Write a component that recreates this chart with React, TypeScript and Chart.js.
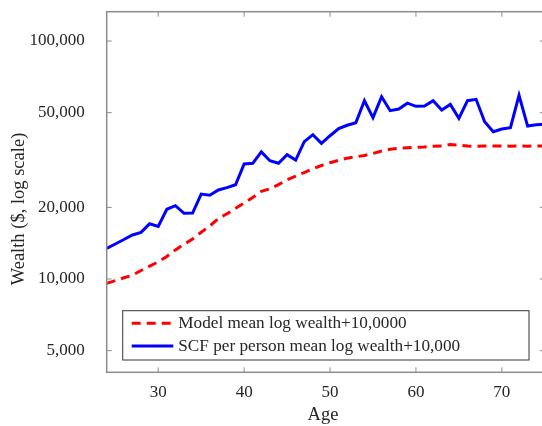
import { useEffect, useRef } from "react";
import { Chart, registerables, type ChartConfiguration, type Plugin } from "chart.js";

Chart.register(...registerables);

// ages on the x axis, one point per year
const AGES = [
  24, 25, 26, 27, 28, 29, 30, 31, 32, 33, 34, 35, 36, 37, 38, 39, 40, 41, 42, 43, 44, 45, 46, 47, 48, 49,
  50, 51, 52, 53, 54, 55, 56, 57, 58, 59, 60, 61, 62, 63, 64, 65, 66, 67, 68, 69, 70, 71, 72, 73, 74, 75,
];

// Model mean log wealth + 10,000 (dashed red)
const MODEL_WEALTH = [
  9590, 9840, 10120, 10370, 10860, 11320, 11810, 12440, 13250, 13990, 14730, 15720, 16710, 17950, 18800, 19810,
  20860, 22020, 23350, 23940, 24930, 26140, 27090, 28020, 29030, 29980, 30810, 31540, 32200, 32620, 33040, 33680,
  34500, 35060, 35390, 35630, 35770, 35900, 36150, 36220, 36700, 36570, 36220, 36110, 36220, 36220, 36220, 36150,
  36220, 36150, 36220, 36220,
];

// SCF per person mean log wealth + 10,000 (solid blue)
const SCF_WEALTH = [
  13460, 14030, 14660, 15310, 15710, 17070, 16640, 19630, 20320, 18880, 18920, 22750, 22480, 23660, 24200, 24900,
  30420, 30630, 34200, 31400, 30630, 33270, 31620, 37770, 40400, 37150, 40000, 42830, 44250, 45380, 56130, 47640,
  58350, 50960, 51760, 54800, 53170, 53330, 56130, 51330, 54160, 47310, 56130, 56890, 45800, 41590, 42660, 43230,
  59150, 43920, 44450, 44700,
];

const X_TICKS = [30, 40, 50, 60, 70];
const Y_TICKS = [5000, 10000, 20000, 50000, 100000];
const LEGEND_LABELS = ["Model mean log wealth+10,0000", "SCF per person mean log wealth+10,000"];

const SERIF = '"Liberation Serif", "Times New Roman", serif';
const AXIS_GRAY = "#8c8c8c";
const TEXT = "#262626";
const RED = "#ff0000";
const BLUE = "#0000ff";
const DASH = [9, 6];

// box round the plot, inward ticks, axis titles and the boxed legend
const framePlugin: Plugin<"line"> = {
  id: "frame",
  afterDraw(chart) {
    const { ctx, chartArea: a, scales } = chart;
    const x = scales.x;
    const y = scales.y;
    ctx.save();

    ctx.strokeStyle = AXIS_GRAY;
    ctx.lineWidth = 1.5;
    ctx.strokeRect(a.left, a.top, a.right - a.left, a.bottom - a.top);

    ctx.lineWidth = 1;
    ctx.beginPath();
    X_TICKS.forEach((t) => {
      const px = x.getPixelForValue(t);
      ctx.moveTo(px, a.bottom);
      ctx.lineTo(px, a.bottom - 5);
      ctx.moveTo(px, a.top);
      ctx.lineTo(px, a.top + 5);
    });
    Y_TICKS.forEach((t) => {
      const py = y.getPixelForValue(t);
      ctx.moveTo(a.left, py);
      ctx.lineTo(a.left + 5, py);
      ctx.moveTo(a.right, py);
      ctx.lineTo(a.right - 5, py);
    });
    ctx.stroke();

    // axis titles
    ctx.fillStyle = TEXT;
    ctx.font = `18.5px ${SERIF}`;
    ctx.textAlign = "center";
    ctx.textBaseline = "alphabetic";
    ctx.fillText("Age", 323, 420);
    ctx.save();
    ctx.translate(23.5, 209);
    ctx.rotate(-Math.PI / 2);
    ctx.fillText("Wealth ($, log scale)", 0, 0);
    ctx.restore();

    // legend
    const lx = 122.7;
    const ly = 310.7;
    ctx.fillStyle = "#ffffff";
    ctx.fillRect(lx, ly, 529 - lx, 360 - ly);
    ctx.strokeStyle = "#333333";
    ctx.lineWidth = 1;
    ctx.strokeRect(lx, ly, 529 - lx, 360 - ly);
    const rows = [
      { y: 323.3, color: RED, dash: DASH },
      { y: 346, color: BLUE, dash: [] as number[] },
    ];
    rows.forEach((r, i) => {
      ctx.strokeStyle = r.color;
      ctx.lineWidth = 3;
      ctx.setLineDash(r.dash);
      ctx.beginPath();
      ctx.moveTo(131.7, r.y);
      ctx.lineTo(173.3, r.y);
      ctx.stroke();
      ctx.setLineDash([]);
      ctx.fillStyle = TEXT;
      ctx.font = `17.2px ${SERIF}`;
      ctx.textAlign = "left";
      ctx.textBaseline = "middle";
      ctx.fillText(LEGEND_LABELS[i], 178.3, r.y);
    });

    ctx.restore();
  },
};

function WealthChart() {
  const canvasRef = useRef<HTMLCanvasElement>(null);

  useEffect(() => {
    if (!canvasRef.current) return;
    const config: ChartConfiguration<"line"> = {
      type: "line",
      data: {
        datasets: [
          {
            label: LEGEND_LABELS[0],
            data: AGES.map((a, i) => ({ x: a, y: MODEL_WEALTH[i] })),
            borderColor: RED,
            borderWidth: 3,
            borderDash: DASH,
            pointRadius: 0,
            tension: 0,
            fill: false,
          },
          {
            label: LEGEND_LABELS[1],
            data: AGES.map((a, i) => ({ x: a, y: SCF_WEALTH[i] })),
            borderColor: BLUE,
            borderWidth: 3,
            pointRadius: 0,
            tension: 0,
            fill: false,
          },
        ],
      },
      options: {
        responsive: true,
        maintainAspectRatio: false,
        animation: false,
        layout: { padding: { left: 0, top: 11.7, right: 3.2, bottom: 0 } },
        plugins: { legend: { display: false }, tooltip: { enabled: false } },
        scales: {
          x: {
            type: "linear",
            min: 24,
            max: 75,
            afterBuildTicks: (s) => {
              s.ticks = X_TICKS.map((v) => ({ value: v }));
            },
            afterFit: (s) => {
              s.height = 53.7;
              s.paddingLeft = 0;
              s.paddingRight = 0;
            },
            ticks: { font: { family: SERIF, size: 17 }, color: TEXT, padding: 10, maxRotation: 0 },
            grid: { display: false, drawTicks: false },
            border: { display: false },
          },
          y: {
            type: "logarithmic",
            min: 4055,
            max: 132800,
            afterBuildTicks: (s) => {
              s.ticks = Y_TICKS.map((v) => ({ value: v }));
            },
            afterFit: (s) => {
              s.width = 106.7;
              s.paddingTop = 0;
              s.paddingBottom = 0;
            },
            ticks: {
              font: { family: SERIF, size: 17 },
              color: TEXT,
              padding: 22,
              callback: (v) => Number(v).toLocaleString("en-US"),
            },
            grid: { display: false, drawTicks: false },
            border: { display: false },
          },
        },
      },
      plugins: [framePlugin],
    };
    const chart = new Chart(canvasRef.current, config);
    return () => chart.destroy();
  }, []);

  return (
    <div style={{ position: "fixed", left: 0, top: 0, width: 542, height: 426, overflow: "hidden", background: "#fff" }}>
      <div style={{ position: "relative", width: 548, height: 426 }}>
        <canvas ref={canvasRef} />
      </div>
    </div>
  );
}

export default function App() {
  return <WealthChart />;
}
